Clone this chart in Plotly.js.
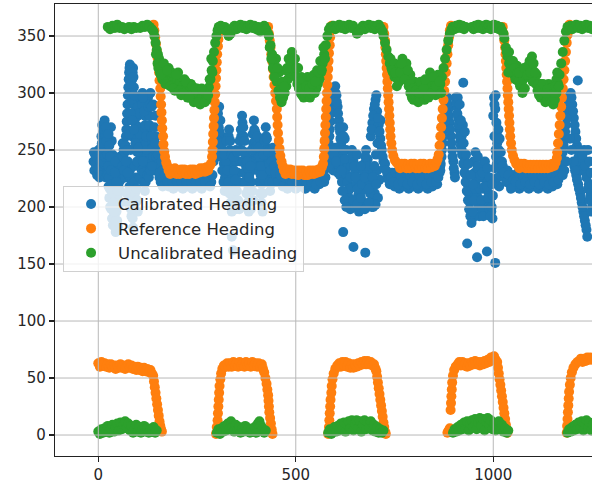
<!DOCTYPE html>
<html><head><meta charset="utf-8">
<script src="https://cdn.plot.ly/plotly-3.0.1.min.js"></script>
<style>html,body{margin:0;padding:0;background:#fff;overflow:hidden}</style>
</head><body>
<div id="chart" style="width:592px;height:485px"></div>
<script>
// ---- data ----
const seriesNames = ["Calibrated Heading", "Reference Heading", "Uncalibrated Heading"];
const seriesColors = ["#1f77b4", "#ff7f0e", "#2ca02c"];
const xTicks = [0, 500, 1000];
const yTicks = [0, 50, 100, 150, 200, 250, 300, 350];

// [sample index, heading]
const calibratedPoints = [
[-12,240],[-10,232],[-8,246],[-5,236],[-3,228],[0,242],[2,233],[4,248],[6,238],[8,230],[10,244],[12,236],[14,252],[16,228],[18,242],[20,234],[22,250],
[-11,248],[-7,238],[-4,244],[-1,234],[1,250],[3,226],[5,240],[7,252],[9,236],[11,228],[13,244],[15,238],[17,250],[19,226],[21,240],[23,230],
[8,262],[10,272],[12,266],[14,256],[16,276],[18,262],[20,250],[22,238],[24,228],[26,218],[28,208],[30,200],[32,270],[34,258],[36,246],[38,234],[40,222],[42,212],[44,204],[46,196],[48,188],[50,182],[36,190],[40,184],[44,178],[52,236],[54,226],[56,214],[58,204],
[9,256],[11,248],[13,240],[15,268],[17,244],[19,270],[21,258],[23,246],[25,236],[27,226],[29,216],[31,208],[33,198],[35,190],[37,184],[39,196],[41,190],[43,182],[45,188],[47,200],[49,210],[51,220],[53,232],[55,244],[57,224],[26,264],[28,254],[30,244],[32,232],[34,220],[36,212],[38,204],[40,196],[42,230],[44,240],[46,222],[48,214],
[60,245],[62,256],[64,250],[66,238],[68,226],[70,262],[72,275],[74,290],[76,305],[78,318],[80,325],[82,315],[84,300],[86,312],[88,322],[90,305],[92,290],[94,278],[96,265],[98,255],[100,280],[102,295],[104,270],[106,258],[108,245],[75,240],[80,232],[85,222],[90,212],[95,204],[100,196],[72,212],[78,202],[84,192],[88,182],[92,236],[96,226],[82,250],[86,262],
[61,236],[63,244],[65,232],[67,248],[69,254],[71,268],[73,282],[75,298],[77,312],[79,322],[81,320],[83,308],[85,294],[87,318],[89,314],[91,298],[93,284],[95,272],[97,260],[99,248],[101,288],[103,282],[105,264],[107,252],[109,240],[73,250],[77,228],[79,218],[81,208],[83,198],[87,190],[91,222],[93,212],[97,216],[99,206],[103,236],[105,226],[70,240],[74,230],[78,264],[82,282],[86,276],[90,268],[94,256],[98,240],[102,252],
[112,300],[115,290],[118,280],[120,268],[122,256],[125,246],[128,236],[126,296],[132,300],[130,280],[133,270],[136,258],[138,248],[140,240],[143,232],[146,262],[148,250],[150,240],[152,232],[155,226],[158,222],[110,232],[114,222],[118,214],
[111,290],[113,296],[116,284],[119,272],[121,262],[123,250],[124,240],[127,288],[129,272],[131,290],[134,262],[137,252],[139,244],[141,236],[144,256],[147,244],[149,236],[151,246],[153,238],[156,230],[113,240],[116,230],[120,222],[124,228],[128,226],[132,232],[136,236],[142,270],[145,280],[139,290],[135,288],
[160,224],[166,220],[172,226],[178,218],[184,222],[190,216],[196,224],[202,218],[208,222],[214,216],[220,224],[226,218],[232,222],[238,216],[244,224],[250,218],[256,222],[262,216],[268,224],[274,220],[280,226],[286,222],[160,240],[163,232],
[163,218],[169,228],[175,222],[181,228],[187,222],[193,228],[199,222],[205,228],[211,222],[217,228],[223,222],[229,228],[235,222],[241,228],[247,222],[253,228],[259,222],[265,228],[271,222],[277,228],[283,218],[289,228],
[292,240],[296,255],[300,270],[303,282],[306,288],[309,276],[312,262],[315,250],[318,238],[321,226],[324,216],[327,248],[330,262],[333,250],[336,238],[339,228],[342,218],[345,208],[348,198],[338,174],[341,162],[350,240],[353,230],[356,222],[359,250],[362,262],[365,274],[368,262],[371,248],[374,236],[377,226],[380,216],[383,206],[386,198],[389,242],[392,256],[395,268],[398,258],[401,244],[404,232],[407,222],[410,212],[413,204],[416,196],[419,238],[422,250],[425,262],[428,252],[431,240],[434,228],[437,220],[440,232],[443,244],
[294,248],[298,262],[301,276],[305,270],[308,256],[311,244],[314,232],[317,222],[320,214],[323,240],[326,232],[329,222],[332,212],[335,204],[338,196],[344,232],[347,224],[351,214],[354,206],[357,198],[360,240],[363,250],[366,240],[369,230],[372,222],[375,212],[378,204],[381,196],[384,230],[387,222],[390,214],[393,206],[396,248],[399,240],[402,254],[405,244],[408,236],[411,228],[414,220],[417,212],[420,224],[423,236],[426,244],[429,232],[432,222],[435,214],[438,244],[441,222],[444,230],
[297,246],[302,258],[307,266],[313,256],[319,246],[325,258],[331,268],[334,258],[337,246],[343,244],[349,250],[352,248],[358,258],[361,268],[364,280],[367,270],[370,258],[373,246],[376,240],[379,234],[382,226],[385,236],[388,250],[391,264],[394,276],[397,266],[400,252],[403,262],[406,252],[409,244],[412,236],[415,228],[418,246],[421,258],[424,270],[427,260],[430,248],[433,238],[436,232],[439,240],[442,252],
[446,236],[452,226],[458,232],[464,222],[470,230],[476,220],[482,228],[488,218],[494,226],[500,216],[506,224],[512,218],[518,226],[524,216],[530,224],[536,218],[542,226],[548,216],[554,224],[560,220],[566,228],[572,222],[578,234],
[449,230],[455,222],[461,228],[467,218],[473,226],[479,216],[485,224],[491,222],[497,228],[503,220],[509,228],[515,222],[521,230],[527,220],[533,228],[539,222],[545,230],[551,220],[557,228],[563,222],[569,232],[575,226],
[582,250],[585,262],[588,275],[591,288],[594,298],[597,304],[600,306],[603,298],[606,288],[609,276],[612,266],[615,256],[618,246],[590,240],[595,232],[600,252],[605,244],[610,236],[620,270],[624,260],[628,250],[632,240],[622,232],[626,222],[630,212],[634,204],[638,198],[620,178],[646,165],[676,160],
[583,256],[586,268],[589,282],[592,294],[595,300],[598,296],[601,300],[604,292],[607,282],[610,270],[613,260],[616,250],[619,240],[584,236],[587,246],[592,250],[597,246],[602,240],[607,230],[612,228],[617,222],[621,262],[623,250],[625,242],[627,234],[629,228],[631,222],[633,214],[635,208],[637,216],[639,226],[641,236],[616,232],[618,214],[624,206],[628,200],
[642,250],[646,240],[650,230],[654,220],[658,210],[662,202],[666,214],[670,226],[674,238],[678,250],[682,242],[686,230],[690,218],[694,206],[650,200],[660,196],[670,204],[680,200],[690,262],[694,274],[698,286],[702,294],[706,284],[710,272],[714,260],[718,250],[722,240],[706,232],[712,224],[700,212],[696,200],
[644,246],[648,236],[652,226],[656,216],[660,206],[664,198],[668,220],[672,232],[676,244],[680,236],[684,224],[688,212],[692,200],[655,246],[665,236],[675,226],[685,216],[695,226],[699,236],[703,246],[707,256],[711,266],[715,276],[692,268],[696,280],[700,290],[704,298],[708,278],[712,266],[716,254],[720,244],[724,234],[704,220],[708,208],[702,202],[645,206],[655,202],[665,208],[675,198],[685,204],
[726,238],[732,228],[738,220],[744,230],[750,218],[756,226],[762,216],[768,224],[774,218],[780,228],[786,216],[792,224],[798,218],[804,226],[810,216],[816,224],[822,218],[828,226],[834,216],[840,224],[846,218],[852,226],[858,220],[864,230],
[729,232],[735,224],[741,226],[747,222],[753,230],[759,220],[765,228],[771,222],[777,230],[783,220],[789,228],[795,222],[801,230],[807,220],[813,228],[819,222],[825,230],[831,220],[837,228],[843,222],[849,230],[855,222],[861,226],[866,236],
[866,232],[869,244],[872,256],[875,268],[878,280],[881,290],[884,296],[887,286],[890,274],[893,262],[896,250],[899,240],[902,230],[905,296],[908,288],[911,278],[914,268],[917,258],[920,250],[924,309],[926,244],[929,236],[932,228],[935,220],[938,212],[941,204],[944,196],[947,190],[934,168],[920,262],[923,272],[950,240],[953,230],[956,220],[959,210],[962,200],[965,192],[959,156],[968,236],[971,226],[974,216],[977,206],[980,198],[984,161],[986,222],[989,212],[992,204],[995,196],[998,190],[1005,151],[1002,296],[1005,286],[1008,274],[1011,262],[1014,250],[1017,240],[1020,232],[1003,262],[1006,250],[1009,238],[1012,226],[1015,218],
[867,238],[870,250],[873,262],[876,274],[879,286],[882,294],[885,290],[888,280],[891,268],[894,256],[897,244],[900,234],[903,226],[906,292],[909,282],[912,272],[915,262],[918,254],[921,246],[924,238],[927,230],[930,222],[933,214],[936,206],[939,198],[942,192],[945,186],[948,196],[951,206],[954,216],[957,226],[960,236],[963,226],[966,216],[969,206],[972,198],[975,192],[978,218],[981,228],[984,218],[987,208],[990,198],[993,192],[996,200],[999,210],[1001,222],[1004,234],[1007,244],[1010,256],[1013,268],[1016,260],[1019,248],[1022,240],[1000,280],[1003,290],[1006,298],[910,296],[915,290],[918,276],[925,256],[928,266],[931,246],[937,238],[943,228],[949,220],[955,248],[961,244],[967,228],[973,230],[979,240],[985,234],[991,226],[997,220],
[1024,236],[1030,226],[1036,232],[1042,220],[1048,228],[1054,218],[1060,226],[1066,216],[1072,224],[1078,218],[1084,226],[1090,216],[1096,224],[1102,218],[1108,226],[1114,216],[1120,224],[1126,218],[1132,226],[1138,216],[1144,224],[1150,218],[1156,226],[1162,220],[1168,230],
[1027,230],[1033,222],[1039,228],[1045,216],[1051,224],[1057,222],[1063,230],[1069,220],[1075,228],[1081,222],[1087,230],[1093,220],[1099,228],[1105,222],[1111,230],[1117,220],[1123,228],[1129,222],[1135,230],[1141,220],[1147,228],[1153,222],[1159,230],[1165,224],
[1172,236],[1176,248],[1180,260],[1184,272],[1188,284],[1192,294],[1196,300],[1200,290],[1204,278],[1208,266],[1212,254],[1214,311],[1216,244],[1220,236],[1205,236],[1210,228],[1215,220],[1220,212],[1224,204],[1228,196],[1232,188],[1236,180],[1238,174],[1230,250],[1234,240],[1238,230],[1242,220],[1246,210],[1250,200],
[1174,242],[1178,254],[1182,266],[1186,278],[1190,290],[1194,298],[1198,296],[1202,284],[1206,272],[1210,260],[1214,250],[1218,240],[1222,232],[1207,232],[1212,224],[1217,216],[1222,208],[1226,200],[1230,192],[1234,184],[1226,246],[1232,236],[1236,226],[1240,216],[1244,206],[1248,196],[1203,240],[1198,250],[1194,260],[1185,240],[1180,232],[1176,228],[1240,250],[1244,240],[1248,230],[1250,220]
];

const referencePoints = [
[0,63],[4,60],[8,64],[12,61],[16,63],[20,60],[24,62],[28,59],[32,62],[36,60],[40,61],[44,58],[48,61],[52,59],[56,62],[60,59],[64,61],[68,58],[72,60],[76,62],[80,59],[84,61],[88,58],[92,60],[96,57],[100,60],[104,57],[108,59],[112,56],[116,59],[120,56],[124,58],[128,55],[132,57],[136,54],
[139,52],[141,47],[143,42],[145,37],[147,32],[149,27],[151,22],[153,17],[155,12],[157,8],[159,5],[161,3],
[140,360],[142,355],[144,349],[146,343],[148,337],[150,331],[152,325],[154,318],[155,311],[157,304],[158,297],[159,290],[160,283],[161,276],[162,269],[164,262],[165,255],[167,249],[169,244],[172,239],[175,236],
[178,232],[182,229],[186,233],[190,230],[194,234],[198,229],[202,232],[206,229],[210,233],[214,230],[218,233],[222,229],[226,232],[230,229],[234,233],[238,230],[242,233],[246,229],[250,232],[254,230],[258,234],[262,231],[266,234],[270,231],[274,235],[278,232],[282,236],[285,238],
[288,244],[289,250],[290,257],[291,264],[292,271],[293,278],[294,285],[295,292],[296,299],[297,306],[298,313],[299,320],[300,327],[301,334],[303,341],[304,347],[306,353],[308,358],
[298,1],[300,7],[302,13],[303,19],[304,25],[305,31],[306,37],[307,43],[309,49],[311,54],[314,58],[318,61],
[322,60],[326,63],[330,60],[334,63],[338,60],[342,64],[346,61],[350,63],[354,60],[358,64],[362,61],[366,63],[370,60],[374,64],[378,61],[382,63],[386,60],[390,64],[394,61],[398,63],[402,60],[406,63],[410,60],[414,62],[417,58],
[420,55],[423,50],[426,45],[428,40],[430,35],[431,30],[432,25],[433,20],[435,15],[437,10],[439,5],[441,1],
[430,358],[432,352],[434,346],[436,340],[438,334],[440,328],[442,321],[444,314],[446,307],[448,300],[450,293],[452,286],[453,279],[454,272],[455,265],[457,258],[459,251],[461,245],[464,240],[467,236],
[470,232],[474,229],[478,233],[482,230],[486,233],[490,229],[494,232],[498,229],[502,232],[506,228],[510,232],[514,229],[518,232],[522,228],[526,231],[530,228],[534,232],[538,229],[542,232],[546,229],[550,232],[554,230],[558,233],[562,231],[566,235],[569,238],
[571,244],[572,251],[573,258],[574,265],[575,272],[576,279],[577,286],[578,293],[579,300],[580,307],[581,314],[582,321],[583,328],[584,335],[586,342],[587,349],[589,355],[591,359],
[582,1],[584,7],[585,13],[586,19],[587,25],[588,31],[590,37],[591,43],[593,49],[596,54],[600,58],[605,61],
[610,63],[614,60],[618,64],[622,61],[626,64],[630,60],[634,63],[638,59],[642,62],[646,59],[650,62],[654,60],[658,63],[662,61],[666,64],[670,62],[674,65],[678,62],[682,65],[686,62],[690,64],[694,61],[698,62],[702,58],
[704,56],[706,51],[708,46],[710,41],[712,36],[714,31],[716,26],[718,21],[720,16],[722,11],[724,7],[726,3],[728,1],
[722,358],[724,352],[726,346],[727,340],[728,334],[729,328],[730,322],[731,316],[732,310],[733,304],[734,298],[735,292],[736,286],[737,280],[738,274],[739,268],[740,262],[742,256],[744,250],[747,245],[751,241],[755,239],
[760,237],[764,234],[768,238],[772,235],[776,238],[780,234],[784,237],[788,234],[792,238],[796,235],[800,238],[804,234],[808,237],[812,234],[816,238],[820,235],[824,238],[828,234],[832,237],[836,234],[840,238],[844,235],[848,238],[852,236],[856,239],[859,242],
[862,246],[864,254],[866,262],[868,270],[870,278],[872,286],[874,294],[876,302],[878,310],[880,318],[882,326],[884,334],[886,342],[888,349],[890,355],[893,359],
[884,2],[887,4],[890,6],[892,22],[893,28],[894,34],[895,40],[896,46],[898,52],[901,57],[905,60],[910,62],
[914,64],[918,61],[922,64],[926,61],[930,63],[934,60],[938,63],[942,61],[946,64],[950,62],[954,65],[958,62],[962,64],[966,61],[970,64],[974,62],[978,65],[982,63],[986,66],[990,64],[994,68],[998,66],[1002,69],[1006,66],[1010,64],
[1012,59],[1014,54],[1016,49],[1018,44],[1020,39],[1022,34],[1024,29],[1026,24],[1028,19],[1030,14],[1032,9],[1034,5],[1036,2],
[1024,358],[1026,352],[1028,346],[1030,340],[1031,334],[1032,328],[1033,322],[1034,316],[1035,310],[1036,304],[1037,298],[1038,292],[1039,286],[1040,280],[1041,274],[1042,268],[1043,262],[1045,256],[1047,250],[1050,245],[1054,241],[1058,238],
[1062,237],[1066,234],[1070,238],[1074,235],[1078,238],[1082,234],[1086,237],[1090,234],[1094,237],[1098,234],[1102,237],[1106,234],[1110,237],[1114,234],[1118,237],[1122,234],[1126,237],[1130,234],[1134,237],[1138,234],[1142,237],[1146,235],[1150,238],[1154,236],[1158,239],[1161,243],
[1162,248],[1164,256],[1166,264],[1168,272],[1170,280],[1172,288],[1174,296],[1176,304],[1178,312],[1180,320],[1182,328],[1184,336],[1186,344],[1188,351],[1190,356],[1193,360],
[1186,2],[1187,8],[1188,14],[1189,20],[1190,26],[1191,32],[1192,38],[1194,44],[1196,50],[1199,55],[1203,59],[1208,62],[1213,64],[1218,65],[1222,67],[1226,64],[1230,67],[1234,65],[1238,68],[1242,66],[1246,68],[1250,66]
];

const uncalibratedPoints = [
[0,3],[4,1],[8,5],[12,2],[16,6],[20,3],[24,8],[28,2],[32,6],[36,9],[40,3],[44,7],[48,10],[52,4],[56,11],[60,5],[64,9],[68,12],[72,6],[76,10],[80,4],[84,8],[88,2],[92,6],[96,9],[100,3],[104,7],[108,2],[112,5],[116,8],[120,3],[124,6],[128,2],[132,5],[136,3],[140,7],[144,2],[148,4],
[24,358],[30,356],[36,359],[42,357],[48,360],[54,357],[60,358],[66,356],[78,358],[84,356],[90,358],[96,357],[106,357],[112,359],[118,358],[124,360],[130,358],[136,356],[140,354],
[142,350],[145,344],[148,338],[151,334],[154,330],[157,326],[160,322],[164,320],[168,318],[172,316],[176,314],[180,315],[184,312],[188,310],[192,313],[196,309],[200,311],[204,307],[208,309],[212,305],[216,307],[220,303],[224,305],[228,301],[232,303],[236,299],[240,301],[244,297],[248,299],[252,296],[256,298],[260,295],[264,297],[268,296],[272,299],[276,302],[280,305],[284,312],[287,320],[290,328],[293,336],[296,344],[299,350],[302,355],[305,358],
[150,326],[156,318],[162,312],[170,308],[178,322],[186,318],[194,302],[202,318],[210,298],[218,312],[226,296],[234,308],[242,292],[250,304],[258,290],[266,302],[274,294],
[146,334],[152,322],[158,316],[166,326],[174,320],[182,306],[190,304],[198,316],[206,302],[214,300],[222,310],[230,296],[238,306],[246,304],[254,292],[262,304],[270,292],[278,298],[282,312],[286,330],[289,318],
[300,2],[304,5],[308,1],[312,6],[316,3],[320,8],[324,4],[328,10],[332,5],[336,12],[340,7],[344,3],[348,9],[352,4],[356,7],[360,2],[364,6],[368,3],[372,8],[376,4],[380,6],[384,2],[388,5],[392,3],[396,7],[400,2],[404,10],[408,12],[412,8],[416,6],[420,2],[424,4],
[305,357],[310,359],[315,356],[320,358],[325,354],[330,350],[335,352],[340,357],[345,359],[350,356],[355,358],[360,360],[365,357],[370,359],[375,356],[380,358],[385,360],[390,357],[395,359],[400,356],[405,358],[410,354],[415,357],[420,359],[425,356],[430,352],
[432,350],[436,342],[440,334],[444,326],[448,318],[452,310],[456,302],[460,296],[464,292],[468,296],[472,300],[476,306],[480,312],[484,318],[488,322],[492,324],[496,320],[500,314],[504,308],[508,304],[512,300],[516,298],[520,296],[524,298],[528,300],[532,298],[536,296],[540,299],[544,302],[548,300],[552,304],[556,308],[560,312],[564,318],[568,326],[572,334],[576,342],[580,350],[584,356],[588,358],
[450,330],[458,318],[466,310],[474,320],[482,330],[490,336],[498,330],[506,322],[514,314],[522,310],[530,314],[538,312],[546,316],[554,320],[562,328],
[434,340],[438,330],[442,322],[446,314],[454,322],[462,300],[470,306],[478,322],[486,328],[494,330],[502,322],[510,310],[518,304],[526,306],[534,304],[542,308],[550,310],[558,318],[566,320],[570,340],[574,330],
[582,2],[586,5],[590,1],[594,4],[598,7],[602,3],[606,8],[610,4],[614,10],[618,5],[622,11],[626,3],[630,9],[634,12],[638,6],[642,13],[646,4],[650,10],[654,13],[658,6],[662,12],[666,3],[670,9],[674,13],[678,5],[682,11],[686,7],[690,12],[694,4],[698,9],[702,3],[706,7],[710,2],[714,5],[718,2],[722,4],
[590,357],[595,359],[600,356],[605,358],[610,360],[615,357],[620,359],[625,356],[630,358],[635,360],[640,357],[645,359],[650,356],[655,352],[660,354],[665,357],[670,359],[675,356],[680,358],[685,360],[690,357],[695,359],[700,356],[705,358],[710,360],[715,357],[720,354],
[722,350],[726,344],[730,338],[734,332],[738,326],[742,322],[746,318],[750,314],[754,316],[758,312],[762,310],[766,314],[770,318],[774,322],[778,318],[782,314],[786,306],[790,300],[794,296],[798,294],[802,298],[806,296],[810,292],[814,296],[818,300],[822,298],[826,294],[830,298],[834,302],[838,306],[842,310],[846,306],[850,302],[854,298],[858,300],[862,304],[866,308],[870,314],[874,322],[878,330],[882,338],[886,346],[890,352],[894,356],[898,358],
[740,330],[750,326],[760,322],[770,330],[780,326],[790,316],[800,310],[810,306],[820,310],[830,308],[840,318],[850,314],[860,316],
[744,320],[752,318],[756,306],[764,318],[768,326],[776,312],[784,320],[788,308],[796,304],[804,302],[812,300],[816,310],[824,304],[828,312],[836,296],[844,300],[848,314],[856,306],[864,310],[868,300],
[898,2],[902,5],[906,3],[910,7],[914,4],[918,9],[922,5],[926,11],[930,6],[934,12],[938,4],[942,10],[946,13],[950,7],[954,14],[958,5],[962,11],[966,15],[970,8],[974,14],[978,4],[982,12],[986,15],[990,9],[994,13],[998,5],[1002,10],[1006,4],[1010,8],[1014,12],[1018,5],[1022,9],[1026,3],[1030,6],[1034,2],[1038,4],
[898,358],[902,356],[906,359],[910,357],[914,360],[918,357],[922,359],[926,356],[930,358],[946,358],[950,356],[954,359],[958,357],[962,360],[966,357],[970,359],[974,356],[978,358],[982,360],[986,357],[990,359],[994,356],[998,358],[1002,360],[1006,357],[1010,359],[1014,356],[1018,358],[1022,355],[1026,352],
[1028,348],[1032,340],[1036,332],[1040,326],[1044,322],[1048,318],[1052,316],[1056,312],[1060,314],[1064,310],[1068,306],[1072,308],[1076,312],[1080,316],[1084,320],[1088,324],[1092,328],[1096,326],[1100,320],[1104,314],[1108,308],[1112,302],[1116,298],[1120,296],[1124,300],[1128,296],[1132,292],[1136,294],[1140,298],[1144,296],[1148,292],[1152,290],[1156,294],[1160,300],[1164,308],[1168,316],[1172,326],[1176,336],[1180,346],[1184,354],[1188,358],
[1040,336],[1050,328],[1060,324],[1070,320],[1080,304],[1090,314],[1100,310],[1110,316],[1120,308],[1130,304],[1140,308],[1150,302],[1160,312],
[1034,336],[1038,318],[1046,328],[1054,322],[1062,318],[1066,318],[1074,300],[1078,322],[1086,316],[1094,318],[1098,332],[1102,326],[1106,318],[1114,308],[1118,304],[1126,308],[1134,300],[1138,304],[1146,304],[1154,300],[1158,306],[1162,318],[1166,306],
[1188,2],[1192,5],[1196,3],[1200,7],[1204,4],[1208,9],[1212,5],[1216,11],[1220,6],[1224,12],[1228,4],[1232,10],[1236,13],[1240,6],[1244,11],[1248,4],[1252,9],
[1190,357],[1195,359],[1200,356],[1205,358],[1210,360],[1215,357],[1220,359],[1225,356],[1230,358],[1235,360],[1240,357],[1245,359],[1250,356]
];

// ---- drawing ----
const allSeries = [calibratedPoints, referencePoints, uncalibratedPoints];
const traces = allSeries.map((pts, i) => ({
  type: 'scatter', mode: 'markers', name: seriesNames[i],
  x: pts.map(p => p[0]), y: pts.map(p => p[1]),
  marker: {color: seriesColors[i], size: 10, line: {width: 0}},
  hoverinfo: 'skip'
}));

const gridColor = '#b8b8b8';
const shapes = [];
xTicks.forEach(v => shapes.push({type:'line', xref:'x', yref:'paper', x0:v, x1:v, y0:0, y1:1, layer:'above', line:{color:gridColor, width:1}}));
yTicks.forEach(v => shapes.push({type:'line', xref:'paper', yref:'y', x0:0, x1:1, y0:v, y1:v, layer:'above', line:{color:gridColor, width:1}}));

const tickFont = {family: 'DejaVu Sans', size: 15, color: '#262626'};
const layout = {
  width: 592, height: 485,
  margin: {l: 55, r: 0, t: 4, b: 29, pad: 0},
  paper_bgcolor: '#ffffff', plot_bgcolor: '#ffffff',
  font: {family: 'DejaVu Sans', size: 15, color: '#262626'},
  xaxis: {range: [-109.6, 1250], tickvals: xTicks, ticktext: xTicks.map(String), showgrid: false, zeroline: false,
          showline: true, mirror: true, linecolor: '#222', linewidth: 1.2, ticks: 'outside', ticklen: 5, tickwidth: 1.2,
          tickcolor: '#222', tickfont: tickFont, layer: 'above traces'},
  yaxis: {range: [-18.4, 378.1], tickvals: yTicks, ticktext: yTicks.map(String), showgrid: false, zeroline: false,
          showline: true, mirror: false, linecolor: '#222', linewidth: 1.2, ticks: 'outside', ticklen: 5, tickwidth: 1.2,
          tickcolor: '#222', tickfont: tickFont, layer: 'above traces'},
  showlegend: true,
  legend: {x: 0.015, y: 0.598, xanchor: 'left', yanchor: 'top', bgcolor: 'rgba(255,255,255,0.8)',
           bordercolor: '#d0d0d0', borderwidth: 1, itemwidth: 44,
           font: {family: 'DejaVu Sans', size: 16.5, color: '#262626'}},
  shapes: shapes,
  hovermode: false
};
Plotly.newPlot('chart', traces, layout, {displayModeBar: false, staticPlot: true});
</script>
</body></html>
